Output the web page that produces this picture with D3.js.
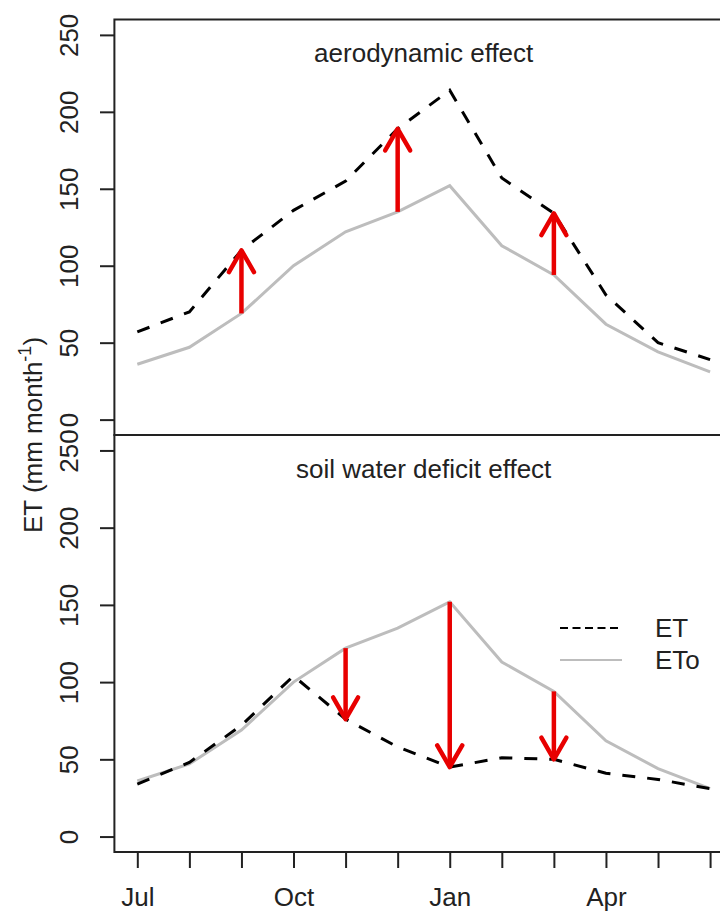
<!DOCTYPE html>
<html lang="en">
<head>
  <meta charset="UTF-8">
  <title>ET vs ETo</title>
  <script src="https://d3js.org/d3.v7.min.js"></script>
  <style>
    body {
      margin: 0;
      background: #fff;
    }
    svg {
      display: block;
      font-family: "Liberation Sans", Arial, sans-serif;
    }
  </style>
</head>
<body>

<svg width="720" height="911"></svg>

<script>
// monthly values, July to June
const months = ["Jul", "Aug", "Sep", "Oct", "Nov", "Dec", "Jan", "Feb", "Mar", "Apr", "May", "Jun"];
const shownMonths = ["Jul", "Oct", "Jan", "Apr"];
const etoValues = [36, 47, 69, 100, 122, 135, 152, 113, 94, 62, 44, 31];
const etAero = [57, 70, 110, 136, 155, 189, 214, 157, 134, 81, 50, 39];
const etSoil = [34, 48, 72, 104, 76, 58, 45, 51, 50, 41, 37, 31];
const arrowsAero = ["Sep", "Dec", "Mar"];
const arrowsSoil = ["Nov", "Jan", "Mar"];
const yTicks = [0, 50, 100, 150, 200, 250];

const svg = d3.select("svg");
const left = 114.4, right = 733;
const panelTop = 19.5, panelMid = 435, panelBottom = 852;
const ink = "#222";
const red = "#e80000";
const fontSize = 26;

const x = d3.scaleLinear().domain([-0.44, 11.44]).range([left, right]);

const panels = [
  {title: "aerodynamic effect", et: etAero, arrows: arrowsAero, top: panelTop, bottom: panelMid},
  {title: "soil water deficit effect", et: etSoil, arrows: arrowsSoil, top: panelMid, bottom: panelBottom}
];

panels.forEach(p => {
  const y = d3.scaleLinear().domain([-10, 260]).range([p.bottom, p.top]);
  const g = svg.append("g");

  const line = d3.line()
    .x((d, i) => x(i))
    .y(d => y(d));

  g.append("path")
    .datum(etoValues)
    .attr("d", line)
    .attr("fill", "none")
    .attr("stroke", "#bdbdbd")
    .attr("stroke-width", 3);

  g.append("path")
    .datum(p.et)
    .attr("d", line)
    .attr("fill", "none")
    .attr("stroke", "#000")
    .attr("stroke-width", 3)
    .attr("stroke-dasharray", "13,12");

  // arrows from ETo to ET
  p.arrows.forEach(m => {
    const i = months.indexOf(m);
    const px = x(i), y0 = y(etoValues[i]), y1 = y(p.et[i]);
    const dir = y1 < y0 ? 1 : -1;
    g.append("line")
      .attr("x1", px).attr("x2", px)
      .attr("y1", y0).attr("y2", y1)
      .attr("stroke", red)
      .attr("stroke-width", 4.5);
    g.append("path")
      .attr("d", `M${px - 12.5},${y1 + dir * 21.7}L${px},${y1}L${px + 12.5},${y1 + dir * 21.7}`)
      .attr("fill", "none")
      .attr("stroke", red)
      .attr("stroke-width", 4.5)
      .attr("stroke-linecap", "round")
      .attr("stroke-linejoin", "round");
  });

  // panel title
  svg.append("text")
    .attr("x", x(5.5))
    .attr("y", p.top + 42.5)
    .attr("text-anchor", "middle")
    .attr("font-size", fontSize)
    .attr("fill", ink)
    .text(p.title);

  // y axis with rotated labels
  const ay = svg.append("g")
    .attr("transform", `translate(${left},0)`)
    .call(d3.axisLeft(y).tickValues(yTicks).tickSize(14.4).tickFormat(d3.format("d")));
  ay.select(".domain").remove();
  ay.selectAll(".tick line").attr("stroke", ink).attr("stroke-width", 2);
  ay.selectAll(".tick text")
    .attr("x", 0)
    .attr("y", -36.4)
    .attr("dy", 0)
    .attr("transform", "rotate(-90)")
    .attr("text-anchor", "middle")
    .attr("font-size", fontSize)
    .attr("font-family", null)
    .attr("fill", ink);

  // frame
  svg.append("rect")
    .attr("x", left).attr("y", p.top)
    .attr("width", right - left).attr("height", p.bottom - p.top)
    .attr("fill", "none")
    .attr("stroke", ink)
    .attr("stroke-width", 2);
});

// x axis
const ax = svg.append("g")
  .attr("transform", `translate(0,${panelBottom})`)
  .call(d3.axisBottom(x)
    .tickValues(d3.range(months.length))
    .tickSize(16)
    .tickPadding(20)
    .tickFormat(i => shownMonths.includes(months[i]) ? months[i] : ""));
ax.select(".domain").remove();
ax.selectAll(".tick line").attr("stroke", ink).attr("stroke-width", 2);
ax.selectAll(".tick text")
  .attr("font-size", fontSize)
  .attr("font-family", null)
  .attr("fill", ink);

// y axis title
const yl = svg.append("text")
  .attr("transform", "translate(42,435) rotate(-90)")
  .attr("text-anchor", "middle")
  .attr("font-size", fontSize)
  .attr("fill", ink);
yl.append("tspan").text("ET (mm month");
yl.append("tspan").attr("dy", -11).attr("font-size", 18).text("-1");
yl.append("tspan").attr("dy", 11).text(")");

// legend
const legend = [
  {label: "ET", color: "#000", dash: "8,4.5", y: 628},
  {label: "ETo", color: "#bdbdbd", dash: null, y: 660}
];
legend.forEach(l => {
  svg.append("line")
    .attr("x1", 560).attr("x2", 622)
    .attr("y1", l.y).attr("y2", l.y)
    .attr("stroke", l.color)
    .attr("stroke-width", 2)
    .attr("stroke-dasharray", l.dash);
  svg.append("text")
    .attr("x", 655)
    .attr("y", l.y + 9)
    .attr("font-size", fontSize)
    .attr("fill", ink)
    .text(l.label);
});
</script>
</body>
</html>
